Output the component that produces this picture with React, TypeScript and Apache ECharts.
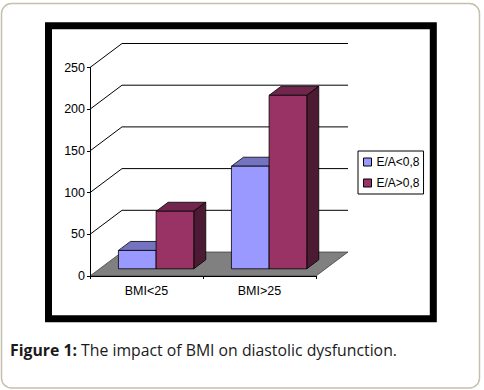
import React, { useEffect, useRef } from "react";
import * as echarts from "echarts";

const categories = ["BMI<25", "BMI>25"];
const seriesNames = ["E/A<0,8", "E/A>0,8"];
const ltValues = [22, 123];
const gtValues = [69, 208];
const yTicks = [0, 50, 100, 150, 200, 250];
const captionBold = "Figure 1:";
const captionText = " The impact of BMI on diastolic dysfunction.";

const DEPTH = [32, -24];
const FRONT = 0.3;
const BAR_DEPTH = 0.375;
const FONT = "'Liberation Sans', Arial, sans-serif";
const CAP_FONT = "'Open Sans', sans-serif";
const CAP_SIZE = 15.8;

const blueColors = { front: "#9999ff", top: "#7373bf", side: "#4d4d80" };
const maroonColors = { front: "#993366", top: "#73264d", side: "#4d1a33" };

function makeBarRender(idx: number, colors: any) {
  return (params: any, api: any) => {
    const c = api.value(0);
    const v = api.value(1);
    const base = api.coord([c, 0]);
    const topP = api.coord([c, v]);
    const band = api.size([1, 0])[0];
    const w = band / 3;
    const ox = DEPTH[0] * FRONT;
    const oy = DEPTH[1] * FRONT;
    const dx = DEPTH[0] * BAR_DEPTH;
    const dy = DEPTH[1] * BAR_DEPTH;
    const x0 = base[0] - w + idx * w + ox;
    const x1 = x0 + w;
    const yb = base[1] + oy;
    const yt = topP[1] + oy;
    const line = { stroke: "#000", lineWidth: 0.8, lineJoin: "round" };
    return {
      type: "group",
      children: [
        {
          type: "polygon",
          shape: { points: [[x0, yt], [x1, yt], [x1 + dx, yt + dy], [x0 + dx, yt + dy]] },
          style: { fill: colors.top, ...line },
        },
        {
          type: "polygon",
          shape: { points: [[x1, yb], [x1 + dx, yb + dy], [x1 + dx, yt + dy], [x1, yt]] },
          style: { fill: colors.side, ...line },
        },
        {
          type: "rect",
          shape: { x: x0, y: yt, width: w, height: yb - yt },
          style: { fill: colors.front, ...line },
        },
      ],
    };
  };
}

function wallRender(params: any, api: any) {
  const t = api.value(1);
  const p = api.coord([0, t]);
  const left = params.coordSys.x;
  const right = params.coordSys.x + params.coordSys.width;
  const y = p[1];
  if (t === 0) {
    return {
      type: "polygon",
      shape: {
        points: [
          [left, y],
          [right, y],
          [right + DEPTH[0], y + DEPTH[1]],
          [left + DEPTH[0], y + DEPTH[1]],
        ],
      },
      style: { fill: "#808080", stroke: "#333", lineWidth: 0.7 },
    };
  }
  return {
    type: "polyline",
    shape: {
      points: [
        [left, y],
        [left + DEPTH[0], y + DEPTH[1]],
        [right + DEPTH[0], y + DEPTH[1]],
      ],
    },
    style: { fill: "none", stroke: "#000", lineWidth: 1 },
  };
}

export default function App() {
  const ref = useRef<HTMLDivElement>(null);
  useEffect(() => {
    if (!ref.current) return;
    const chart = echarts.init(ref.current, undefined, { renderer: "svg" });
    chart.setOption({
      animation: false,
      grid: { left: 90, top: 67.5, width: 226, height: 208.5, containLabel: false },
      xAxis: {
        type: "category",
        data: categories,
        z: 10,
        axisLine: { show: true, lineStyle: { color: "#000", width: 1 } },
        axisTick: { show: true, length: 3, lineStyle: { color: "#000" } },
        axisLabel: { color: "#000", fontSize: 12.5, fontFamily: FONT, margin: 8 },
        splitLine: { show: false },
      },
      yAxis: {
        type: "value",
        min: 0,
        max: 250,
        interval: 50,
        z: 10,
        axisLine: { show: true, lineStyle: { color: "#000", width: 1 } },
        axisTick: { show: true, length: 3, lineStyle: { color: "#000" } },
        axisLabel: { color: "#000", fontSize: 12.5, fontFamily: FONT, margin: 5 },
        splitLine: { show: false },
      },
      legend: {
        data: seriesNames,
        orient: "vertical",
        left: 358,
        top: 151,
        backgroundColor: "#fff",
        borderColor: "#000",
        borderWidth: 1,
        borderRadius: 0,
        padding: [5, 4, 5, 5],
        itemWidth: 8,
        itemHeight: 8,
        itemGap: 9,
        icon: "rect",
        itemStyle: { borderColor: "#000", borderWidth: 1 },
        textStyle: { color: "#000", fontSize: 12, fontFamily: FONT },
        selectedMode: false,
      },
      graphic: [
        {
          type: "rect",
          z: -100,
          shape: { x: 1.5, y: 3.5, width: 478, height: 384.5, r: 10 },
          style: { fill: "#fff", stroke: "#c4c0ab", lineWidth: 1.5 },
        },
        {
          type: "rect",
          z: -90,
          shape: { x: 48.5, y: 25.8, width: 384.8, height: 293 },
          style: { fill: "none", stroke: "#000", lineWidth: 7 },
        },
        {
          type: "text",
          x: 10,
          y: 350,
          style: {
            text: "{b|" + captionBold + "}{n|" + captionText + "}",
            fontSize: CAP_SIZE,
            fontFamily: CAP_FONT,
            fill: "#1a1a1a",
            verticalAlign: "middle",
            rich: {
              b: { fontWeight: "bold", fontSize: CAP_SIZE, fontFamily: CAP_FONT, fill: "#1a1a1a" },
              n: { fontWeight: "normal", fontSize: CAP_SIZE, fontFamily: CAP_FONT, fill: "#1a1a1a" },
            },
          },
        },
      ],
      series: [
        {
          type: "custom",
          name: "walls",
          renderItem: wallRender,
          data: yTicks.map((t) => [0, t]),
          silent: true,
          z: 1,
        },
        {
          type: "custom",
          name: seriesNames[0],
          renderItem: makeBarRender(0, blueColors),
          itemStyle: { color: blueColors.front },
          data: ltValues.map((v, i) => [i, v]),
          z: 3,
        },
        {
          type: "custom",
          name: seriesNames[1],
          renderItem: makeBarRender(1, maroonColors),
          itemStyle: { color: maroonColors.front },
          data: gtValues.map((v, i) => [i, v]),
          z: 3,
        },
      ],
    });
    return () => chart.dispose();
  }, []);
  return (
    <div
      ref={ref}
      style={{ position: "absolute", left: 0, top: 0, width: 484, height: 390, background: "#fff" }}
    />
  );
}
